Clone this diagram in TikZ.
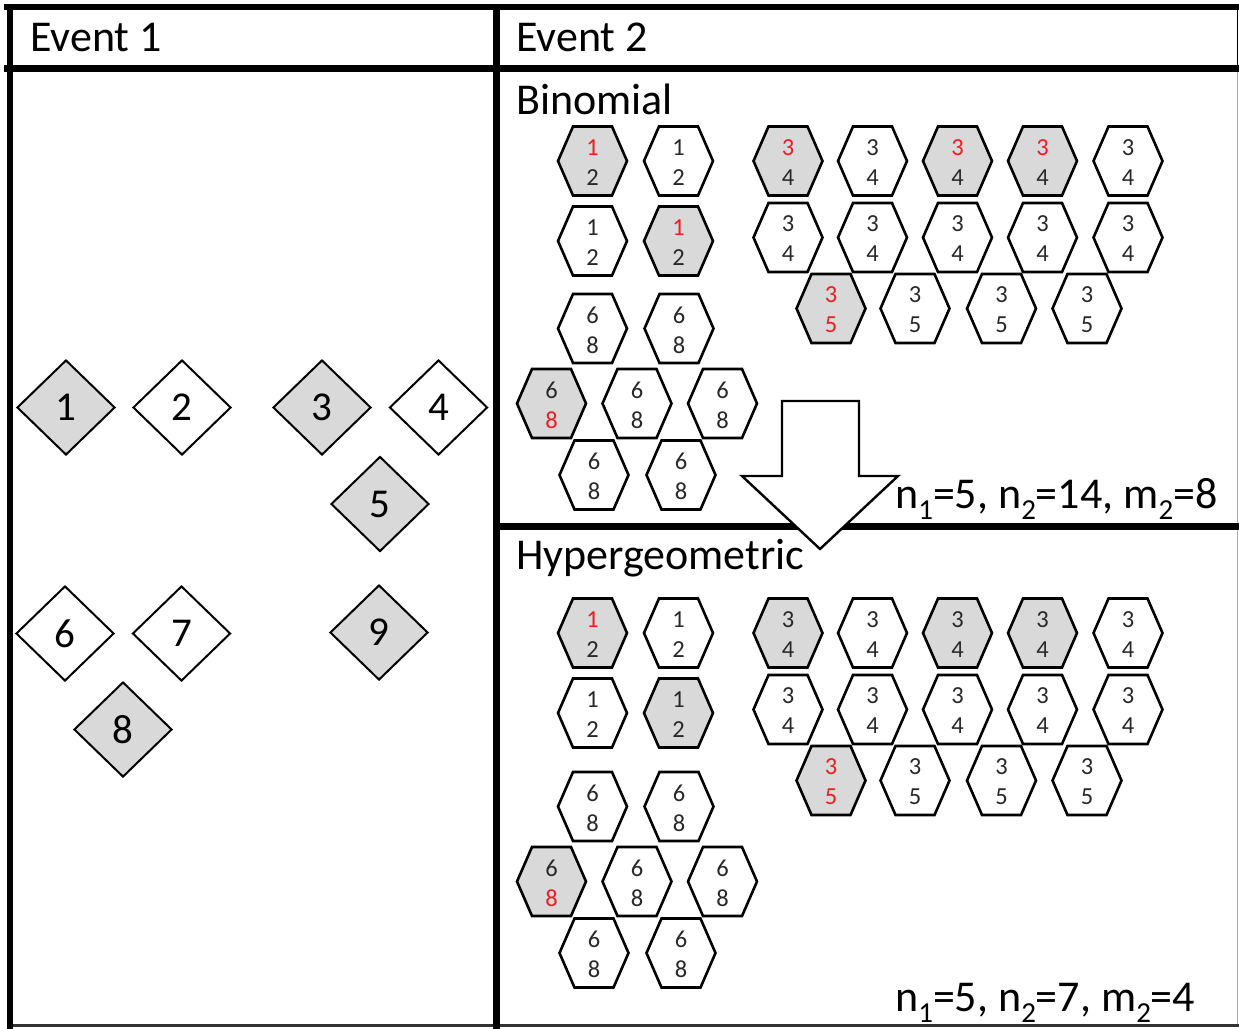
\documentclass[tikz,border=0pt]{standalone}
\usepackage{fontspec}
\setmainfont{Carlito}
\usetikzlibrary{shapes.geometric}
\definecolor{hexgray}{RGB}{217,217,217}
\definecolor{txt}{RGB}{40,40,40}
\definecolor{hred}{RGB}{235,30,35}
\definecolor{faint}{RGB}{170,170,170}
\tikzset{
  border/.style={line width=6.5pt, line cap=rect},
  hexline/.style={draw=black, line width=2.6pt, line join=miter},
  hextext/.style={inner sep=0pt, font=\fontsize{24.5}{24.5}\selectfont},
  dia/.style={diamond, draw=black, line width=2pt, inner sep=0pt,
    minimum width=98pt, minimum height=95pt, text=black,
    font=\fontsize{41}{41}\selectfont},
  head/.style={anchor=base west, inner sep=0pt, text=black,
    font=\fontsize{44}{44}\selectfont},
  bigarrow/.style={draw=black, line width=2.4pt, fill=white, line join=miter}
}
\newcommand{\sbs}[1]{\raisebox{-11pt}{\fontsize{29}{29}\selectfont #1}}
% #1 name, #2 (x,y), #3 fill, #4 top colour, #5 top, #6 bottom colour, #7 bottom
\newcommand{\hexa}[7]{%
  \begin{scope}[shift={#2}]
    \draw[hexline,fill=#3] (-34.5,0) -- (-19.5,-34.5) -- (19.5,-34.5) -- (34.5,0)
      -- (19.5,34.5) -- (-19.5,34.5) -- cycle;
    \node[hextext,text=#4] (#1t) at (0,-13.5) {#5};
    \node[hextext,text=#6] (#1b) at (0,16.5) {#7};
  \end{scope}}
\begin{document}
\begin{tikzpicture}[x=1pt,y=-1pt]
\useasboundingbox (0,0) rectangle (1239,1028);
\clip (0,0) rectangle (1239,1028);
\fill[white] (0,0) rectangle (1239,1028);

% frame
\draw[faint, line width=1.5pt] (1237.5,70) -- (1237.5,1025);
\draw[black, line width=1.5pt] (1237.5,7) -- (1237.5,70);
\draw[black!80, line width=2.5pt] (7,1025.5) -- (1245,1025.5);
\draw[border] (7,7) -- (1250,7);
\draw[border] (10,7) -- (10,1035);
\draw[border] (7,68.5) -- (1250,68.5);
\draw[border] (496.5,7) -- (496.5,1035);
\draw[border] (496.5,526.5) -- (1250,526.5);

% headers
\node[head] (ev1) at (30,51) {Event 1};
\node[head] (ev2) at (516,51) {Event 2};
\node[head] (bin) at (516,114) {Binomial};
\node[head] (hyp) at (516,569) {Hypergeometric};

% event 1 diamonds
\node[dia, fill=hexgray] (d1) at (66,407.5) {1};
\node[dia, fill=white]   (d2) at (182,407.5) {2};
\node[dia, fill=hexgray] (d3) at (322,407.5) {3};
\node[dia, fill=white]   (d4) at (438.5,407.5) {4};
\node[dia, fill=hexgray] (d5) at (380,504) {5};
\node[dia, fill=white]   (d6) at (65,633.5) {6};
\node[dia, fill=white]   (d7) at (181.5,633.5) {7};
\node[dia, fill=hexgray] (d9) at (379,632.5) {9};
\node[dia, fill=hexgray] (d8) at (123,729.5) {8};

% ---------- Binomial ----------
\hexa{ba1}{(592.5,161)}{hexgray}{hred}{1}{txt}{2}
\hexa{ba2}{(678.5,161)}{white}{txt}{1}{txt}{2}
\hexa{ba3}{(592.5,241)}{white}{txt}{1}{txt}{2}
\hexa{ba4}{(678.5,241)}{hexgray}{hred}{1}{txt}{2}

\hexa{bb1}{(788,161)}{hexgray}{hred}{3}{txt}{4}
\hexa{bb2}{(872.5,161)}{white}{txt}{3}{txt}{4}
\hexa{bb3}{(957.5,161)}{hexgray}{hred}{3}{txt}{4}
\hexa{bb4}{(1042.5,161)}{hexgray}{hred}{3}{txt}{4}
\hexa{bb5}{(1128,161)}{white}{txt}{3}{txt}{4}
\hexa{bb6}{(788,237.5)}{white}{txt}{3}{txt}{4}
\hexa{bb7}{(872.5,237.5)}{white}{txt}{3}{txt}{4}
\hexa{bb8}{(957.5,237.5)}{white}{txt}{3}{txt}{4}
\hexa{bb9}{(1042.5,237.5)}{white}{txt}{3}{txt}{4}
\hexa{bb10}{(1128,237.5)}{white}{txt}{3}{txt}{4}
\hexa{bc1}{(831,308.5)}{hexgray}{hred}{3}{hred}{5}
\hexa{bc2}{(915,308.5)}{white}{txt}{3}{txt}{5}
\hexa{bc3}{(1001.5,308.5)}{white}{txt}{3}{txt}{5}
\hexa{bc4}{(1087,308.5)}{white}{txt}{3}{txt}{5}

\hexa{bd1}{(592.5,328.5)}{white}{txt}{6}{txt}{8}
\hexa{bd2}{(679,328.5)}{white}{txt}{6}{txt}{8}
\hexa{bd3}{(551.5,403.5)}{hexgray}{txt}{6}{hred}{8}
\hexa{bd4}{(637,403.5)}{white}{txt}{6}{txt}{8}
\hexa{bd5}{(722.5,403.5)}{white}{txt}{6}{txt}{8}
\hexa{bd6}{(594,475)}{white}{txt}{6}{txt}{8}
\hexa{bd7}{(681,475)}{white}{txt}{6}{txt}{8}

\node[head] (bres) at (895,508) {n\sbs{1}=5, n\sbs{2}=14, m\sbs{2}=8};

% ---------- Hypergeometric ----------
\hexa{ha1}{(592.5,633)}{hexgray}{hred}{1}{txt}{2}
\hexa{ha2}{(678.5,633)}{white}{txt}{1}{txt}{2}
\hexa{ha3}{(592.5,713)}{white}{txt}{1}{txt}{2}
\hexa{ha4}{(678.5,713)}{hexgray}{txt}{1}{txt}{2}

\hexa{hb1}{(788,633)}{hexgray}{txt}{3}{txt}{4}
\hexa{hb2}{(872.5,633)}{white}{txt}{3}{txt}{4}
\hexa{hb3}{(957.5,633)}{hexgray}{txt}{3}{txt}{4}
\hexa{hb4}{(1042.5,633)}{hexgray}{txt}{3}{txt}{4}
\hexa{hb5}{(1128,633)}{white}{txt}{3}{txt}{4}
\hexa{hb6}{(788,709.5)}{white}{txt}{3}{txt}{4}
\hexa{hb7}{(872.5,709.5)}{white}{txt}{3}{txt}{4}
\hexa{hb8}{(957.5,709.5)}{white}{txt}{3}{txt}{4}
\hexa{hb9}{(1042.5,709.5)}{white}{txt}{3}{txt}{4}
\hexa{hb10}{(1128,709.5)}{white}{txt}{3}{txt}{4}
\hexa{hc1}{(831,780.5)}{hexgray}{hred}{3}{hred}{5}
\hexa{hc2}{(915,780.5)}{white}{txt}{3}{txt}{5}
\hexa{hc3}{(1001.5,780.5)}{white}{txt}{3}{txt}{5}
\hexa{hc4}{(1087,780.5)}{white}{txt}{3}{txt}{5}

\hexa{hd1}{(592.5,806.5)}{white}{txt}{6}{txt}{8}
\hexa{hd2}{(679,806.5)}{white}{txt}{6}{txt}{8}
\hexa{hd3}{(551.5,881.5)}{hexgray}{txt}{6}{hred}{8}
\hexa{hd4}{(637,881.5)}{white}{txt}{6}{txt}{8}
\hexa{hd5}{(722.5,881.5)}{white}{txt}{6}{txt}{8}
\hexa{hd6}{(594,953)}{white}{txt}{6}{txt}{8}
\hexa{hd7}{(681,953)}{white}{txt}{6}{txt}{8}

\node[head] (hres) at (895,1011) {n\sbs{1}=5, n\sbs{2}=7, m\sbs{2}=4};

% big arrow
\draw[bigarrow] (782,401) -- (859,401) -- (859,476) -- (898,476) -- (820,549)
  -- (742,476) -- (782,476) -- cycle;
\end{tikzpicture}
\end{document}
